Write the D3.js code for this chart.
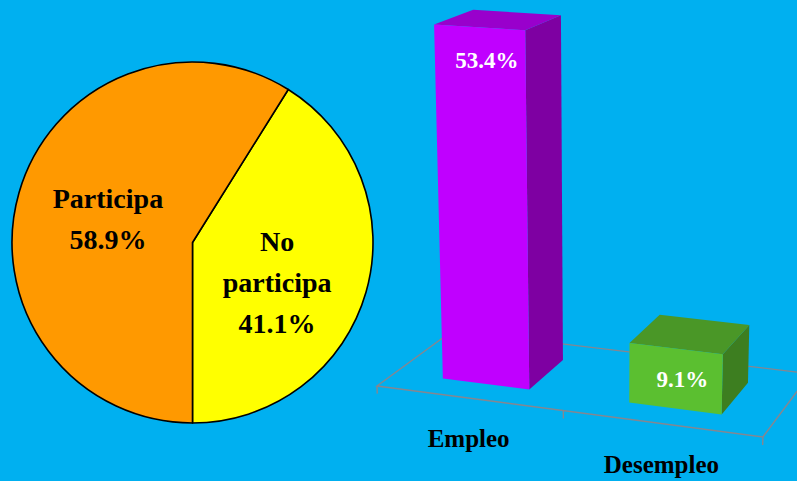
<!DOCTYPE html>
<html>
<head>
<meta charset="utf-8">
<script src="https://cdn.jsdelivr.net/npm/d3@7"></script>
<style>
  body { margin: 0; background: #00B0F0; }
  text { font-family: "Liberation Serif", serif; font-weight: bold; }
</style>
</head>
<body>
<svg id="chart"></svg>
<script>
  // pie data
  var pieNames = [["No", "participa"], ["Participa"]];
  var pieValues = [41.1, 58.9];
  var pieLabels = ["41.1%", "58.9%"];

  // bar data
  var categories = ["Empleo", "Desempleo"];
  var barValues = [53.4, 9.1];
  var barLabels = ["53.4%", "9.1%"];

  var width = 797, height = 481;

  var svg = d3.select("#chart")
    .attr("width", width)
    .attr("height", height)
    .style("background-color", "#00B0F0");

  // ---------- pie ----------
  var pieColors = ["#FFFF00", "#FF9900"];
  var cx = 192.5, cy = 242.5, radius = 180.5;
  var total = d3.sum(pieValues);
  var start = Math.PI - 2 * Math.PI * pieValues[0] / total;

  var pie = d3.pie().sort(null).value(function(d){ return d; })
    .startAngle(start).endAngle(start + 2 * Math.PI);
  var arc = d3.arc().innerRadius(0).outerRadius(radius);
  var labelArc = d3.arc().innerRadius(88).outerRadius(88);

  var gPie = svg.append("g").attr("transform", "translate(" + cx + "," + cy + ")");
  var slices = pie(pieValues);

  gPie.selectAll("path")
    .data(slices)
    .enter().append("path")
    .attr("d", arc)
    .attr("fill", function(d, i){ return pieColors[i]; })
    .attr("stroke", "#000")
    .attr("stroke-width", 1.6)
    .attr("stroke-linejoin", "round");

  var lh = 41;
  slices.forEach(function(d, i){
    var c = labelArc.centroid(d);
    var lines = pieNames[i].concat([pieLabels[i]]);
    // the three line label sits a bit lower in the original
    var shift = lines.length > 2 ? 15 : 0;
    var y0 = c[1] - (lines.length - 1) * lh / 2 + 10 + shift;
    var t = gPie.append("text")
      .attr("text-anchor", "middle")
      .attr("font-size", 28)
      .attr("fill", "#000");
    lines.forEach(function(s, j){
      t.append("tspan").attr("x", c[0]).attr("y", y0 + j * lh).text(s);
    });
  });

  // ---------- 3d bars ----------
  // perspective projection fitted to the picture (three vanishing points)
  var A = -0.0661, B = -0.1002, C = 0.087;
  var VX = [-5075, -334], VY = [600, 6717], VZ = [1320, -305], O = [377, 386];
  function project(x, y, z) {
    var w = 1 + A * x + B * y + C * z;
    return [(A * x * VX[0] + B * y * VY[0] + C * z * VZ[0] + O[0]) / w,
            (A * x * VX[1] + B * y * VY[1] + C * z * VZ[1] + O[1]) / w];
  }
  function poly(pts) {
    return "M" + pts.map(function(p){ return project(p[0], p[1], p[2]).join(","); }).join("L") + "Z";
  }

  var xScale = d3.scaleBand().domain(categories).range([0, 1])
    .paddingInner(0.528).paddingOuter(0.264);
  var yScale = d3.scaleLinear().domain([0, 100]).range([0, 1]);
  var z0 = 0.232, z1 = 0.741;

  var gBar = svg.append("g");

  // floor
  gBar.append("path")
    .attr("d", poly([[0,0,0],[1,0,0],[1,0,1],[0,0,1]]))
    .attr("fill", "none")
    .attr("stroke", "#86868f")
    .attr("stroke-width", 1.4);

  // ticks between categories on the front edge
  var ticks = d3.range(categories.length + 1).map(function(i){ return i * xScale.step(); });
  gBar.selectAll(".tick")
    .data(ticks)
    .enter().append("path")
    .attr("class", "tick")
    .attr("d", function(t){
      var a = project(t, 0, 0), b = project(t, yScale(-1.2), 0);
      return "M" + a.join(",") + "L" + b.join(",");
    })
    .attr("stroke", "#86868f")
    .attr("stroke-width", 1.4);

  var barColors = [
    { front: "#C000FF", top: "#9900CC", side: "#7E00A2" },
    { front: "#5BBF30", top: "#4A9727", side: "#3D7E20" }
  ];

  categories.forEach(function(cat, i){
    var x0 = xScale(cat), x1 = x0 + xScale.bandwidth();
    var h = yScale(barValues[i]);
    var col = barColors[i];
    var g = gBar.append("g");
    g.append("path")
      .attr("d", poly([[x1,0,z0],[x1,0,z1],[x1,h,z1],[x1,h,z0]]))
      .attr("fill", col.side);
    g.append("path")
      .attr("d", poly([[x0,h,z0],[x1,h,z0],[x1,h,z1],[x0,h,z1]]))
      .attr("fill", col.top);
    g.append("path")
      .attr("d", poly([[x0,0,z0],[x1,0,z0],[x1,h,z0],[x0,h,z0]]))
      .attr("fill", col.front);

    var lp = project(x0 + xScale.bandwidth() / 2, yScale(barValues[i] - 4.6), z0);
    g.append("text")
      .attr("x", lp[0] + 7)
      .attr("y", lp[1] + 8)
      .attr("text-anchor", "middle")
      .attr("font-size", 23)
      .attr("fill", "#fff")
      .text(barLabels[i]);

    var cp = project(x0 + xScale.bandwidth() / 2, 0, 0);
    g.append("text")
      .attr("x", cp[0])
      .attr("y", cp[1] + 49)
      .attr("text-anchor", "middle")
      .attr("font-size", 25)
      .attr("fill", "#000")
      .text(cat);
  });
</script>
</body>
</html>
